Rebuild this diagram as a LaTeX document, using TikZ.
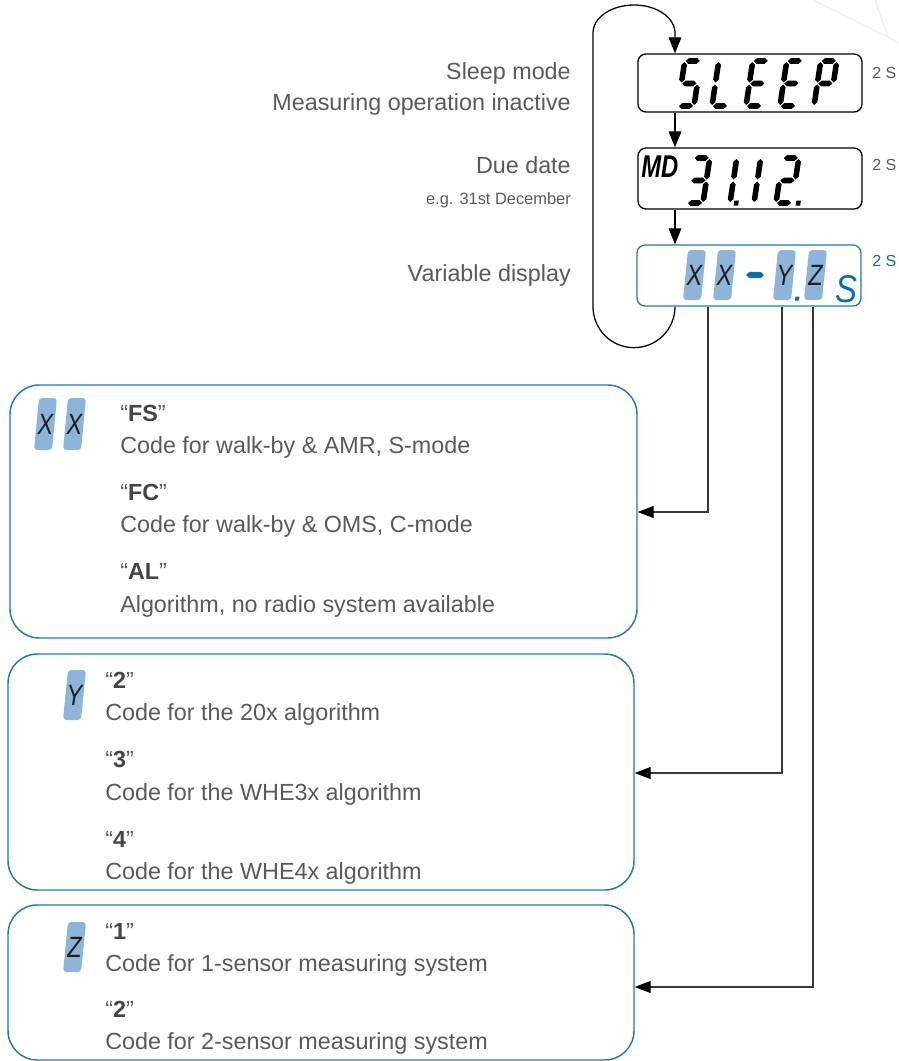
\documentclass[tikz,border=0pt]{standalone}
\usepackage{fontspec}
\setmainfont{Liberation Sans}
\usetikzlibrary{arrows.meta}
\definecolor{txtgray}{RGB}{88,89,91}
\definecolor{boldgray}{RGB}{68,68,70}
\definecolor{lineblue}{RGB}{35,120,180}
\definecolor{accblue}{RGB}{10,110,170}
\definecolor{blockblue}{RGB}{140,181,217}
\definecolor{conngray}{RGB}{55,55,55}
\definecolor{wmgray}{RGB}{236,236,236}

\newcommand{\hseg}[3]{\fill (#1,#3) -- (#1+2.8,#3-2.8) -- (#2-2.8,#3-2.8) -- (#2,#3) -- (#2-2.8,#3+2.8) -- (#1+2.8,#3+2.8) -- cycle;}
\newcommand{\vseg}[3]{\fill (#1,#2) -- (#1+2.8,#2+2.8) -- (#1+2.8,#3-2.8) -- (#1,#3) -- (#1-2.8,#3-2.8) -- (#1-2.8,#2+2.8) -- cycle;}
\newcommand{\lcdsega}{\hseg{1}{15}{-45}}
\newcommand{\lcdsegg}{\hseg{1}{15}{-22.5}}
\newcommand{\lcdsegd}{\hseg{1}{15}{0}}
\newcommand{\lcdsegf}{\vseg{0}{-44}{-23.5}}
\newcommand{\lcdsege}{\vseg{0}{-21.5}{-1}}
\newcommand{\lcdsegb}{\vseg{16}{-44}{-23.5}}
\newcommand{\lcdsegc}{\vseg{16}{-21.5}{-1}}
\newcommand{\lcdsegp}{\fill (20,-2.5) rectangle (24.5,2.5);}
\newcommand{\lcdchar}[3]{\begin{scope}[shift={(#1,#2)},xslant=0.15]
  \foreach \s in {#3}{\csname lcdseg\s\endcsname}\end{scope}}
\newcommand{\blkshape}[3]{\fill[blk] (#1,#3) -- (#1+5,#2) -- (#1+23,#2) -- (#1+18,#3) -- cycle;}

\tikzset{
  lbl/.style={font=\fontsize{17.5pt}{20pt}\selectfont, text=txtgray, inner sep=0},
  smalllbl/.style={font=\fontsize{12.3pt}{14pt}\selectfont, text=txtgray, inner sep=0},
  twos/.style={font=\fontsize{12pt}{14pt}\selectfont, inner sep=0},
  display/.style={draw=black, line width=1pt, rounded corners=6pt, minimum width=168pt, inner sep=0},
  infobox/.style={draw=lineblue, line width=1.1pt, rounded corners=22pt, inner sep=0},
  conn/.style={draw=conngray, line width=0.9pt, -{Triangle[length=12pt,width=9pt,color=black]}},
  flowarrow/.style={draw=black, line width=0.95pt, -{Triangle[length=12pt,width=9.5pt]}},
  blk/.style={fill=blockblue, rounded corners=2.5pt},
  blkletter/.style={font=\fontsize{22pt}{24pt}\selectfont\itshape, text=black!88, inner sep=0},
  wm/.style={draw=wmgray, line width=0.8pt}
}

\begin{document}
\begin{tikzpicture}[x=0.75pt,y=-0.75pt]
\useasboundingbox (0,0) rectangle (899,1061);

% watermark
\draw[wm] (813,0) -- (888,37) -- (875,0);
\draw[wm] (888,37) -- (899,43);

% displays
\node[display, minimum height=43.5pt] (sleep) at (750,83) {};
\node[display, minimum height=45.75pt] (md) at (750,178.5) {};
\node[display, draw=lineblue, minimum height=45.75pt] (var) at (749,275.5) {};

% SLEEP characters
\lcdchar{678}{106}{a,f,g,c,d}
\lcdchar{712}{106}{f,e,d}
\lcdchar{746}{106}{a,f,g,e,d}
\lcdchar{780}{106}{a,f,g,e,d}
\lcdchar{814}{106}{a,b,f,g,e}

% MD 31.12.
\node[anchor=base west, inner sep=0, font=\fontsize{17.5pt}{19pt}\selectfont\bfseries\itshape] (mdtxt) at (641,177) {\scalebox{1.02}[1.35]{MD}};
\lcdchar{687}{203}{a,b,g,c,d}
\lcdchar{714}{203}{b,c,p}
\lcdchar{738}{203}{b,c}
\lcdchar{776}{203}{a,b,g,e,d,p}

% variable display content
\blkshape{683}{250}{300}
\blkshape{713}{250}{300}
\blkshape{773}{250}{300}
\blkshape{804}{250}{300}
\node[blkletter] (vx1) at (694.5,275) {\scalebox{0.8}[1]{X}};
\node[blkletter] (vx2) at (724.5,275) {\scalebox{0.8}[1]{X}};
\node[blkletter] (vy) at (784.5,275) {\scalebox{0.8}[1]{Y}};
\node[blkletter] (vz) at (815.5,275) {\scalebox{0.8}[1]{Z}};
\fill[accblue] (746,275) -- (749.5,271.8) -- (760.5,271.8) -- (764,275) -- (760.5,278.2) -- (749.5,278.2) -- cycle;
\fill[accblue] (795.5,296.5) -- (799.5,296.5) -- (799,300.5) -- (795,300.5) -- cycle;
\node[inner sep=0, font=\fontsize{29pt}{31pt}\selectfont\itshape, text=accblue] (sunit) at (846.5,289.5) {\scalebox{0.85}[1]{S}};

% 2 S labels
\node[twos, anchor=base west, text=txtgray] (t1) at (872,78) {2 S};
\node[twos, anchor=base west, text=txtgray] (t2) at (872,170) {2 S};
\node[twos, anchor=base west, text=accblue] (t3) at (872,266) {2 S};

% left labels
\node[lbl, anchor=base east] (sleepl) at (571,79) {Sleep mode};
\node[lbl, anchor=base east] (measl) at (571,110) {Measuring operation inactive};
\node[lbl, anchor=base east] (duel) at (571,173) {Due date};
\node[smalllbl, anchor=base east] (egl) at (571,204) {e.g. 31st December};
\node[lbl, anchor=base east] (varl) at (571,281) {Variable display};

% flow arrows and loop
\coordinate (ax) at (675,0);
\coordinate (loopL) at (593,33);
\draw[flowarrow] (sleep.south -| ax) -- (md.north -| ax);
\draw[flowarrow] (md.south -| ax) -- (var.north -| ax);
\draw[flowarrow] (var.south -| ax) arc[start angle=0,end angle=180,radius=41]
   -- (loopL) arc[start angle=180,end angle=360,x radius=41,y radius=28]
   -- (sleep.north -| ax);

% info boxes
\node[infobox, minimum width=470.25pt, minimum height=189.75pt] (boxX) at (323.5,511.5) {};
\node[infobox, minimum width=469.5pt, minimum height=177pt] (boxY) at (321,772) {};
\node[infobox, minimum width=469.5pt, minimum height=116.25pt] (boxZ) at (321,982.5) {};

% connectors
\coordinate (cx) at (708,512);
\coordinate (cy) at (782,773);
\coordinate (cz) at (813,987);
\draw[conn] (var.south -| cx) -- (cx) -- (cx -| boxX.east);
\draw[conn] (var.south -| cy) -- (cy) -- (cy -| boxY.east);
\draw[conn] (var.south -| cz) -- (cz) -- (cz -| boxZ.east);

% box X content
\blkshape{34}{398}{450}
\blkshape{63}{398}{450}
\node[blkletter] (bx1) at (45.5,424) {\scalebox{0.8}[1]{X}};
\node[blkletter] (bx2) at (74.5,424) {\scalebox{0.8}[1]{X}};
\node[lbl, anchor=base west] (fs) at (120,421) {“{\bfseries\color{boldgray}FS}”};
\node[lbl, anchor=base west] (fsd) at (120,453) {Code for walk-by \& AMR, S-mode};
\node[lbl, anchor=base west] (fc) at (120,500) {“{\bfseries\color{boldgray}FC}”};
\node[lbl, anchor=base west] (fcd) at (120,532) {Code for walk-by \& OMS, C-mode};
\node[lbl, anchor=base west] (al) at (120,579) {“{\bfseries\color{boldgray}AL}”};
\node[lbl, anchor=base west] (ald) at (120,612) {Algorithm, no radio system available};

% box Y content
\blkshape{63}{670}{720}
\node[blkletter] (by) at (74.5,695) {\scalebox{0.8}[1]{Y}};
\node[lbl, anchor=base west] (y2) at (105,688) {“{\bfseries\color{boldgray}2}”};
\node[lbl, anchor=base west] (y2d) at (105,720) {Code for the 20x algorithm};
\node[lbl, anchor=base west] (y3) at (105,767) {“{\bfseries\color{boldgray}3}”};
\node[lbl, anchor=base west] (y3d) at (105,800) {Code for the WHE3x algorithm};
\node[lbl, anchor=base west] (y4) at (105,847) {“{\bfseries\color{boldgray}4}”};
\node[lbl, anchor=base west] (y4d) at (105,879) {Code for the WHE4x algorithm};

% box Z content
\blkshape{63}{922}{972}
\node[blkletter] (bz) at (74.5,947) {\scalebox{0.8}[1]{Z}};
\node[lbl, anchor=base west] (z1) at (105,939) {“{\bfseries\color{boldgray}1}”};
\node[lbl, anchor=base west] (z1d) at (105,971) {Code for 1-sensor measuring system};
\node[lbl, anchor=base west] (z2) at (105,1017) {“{\bfseries\color{boldgray}2}”};
\node[lbl, anchor=base west] (z2d) at (105,1049) {Code for 2-sensor measuring system};
\end{tikzpicture}
\end{document}
